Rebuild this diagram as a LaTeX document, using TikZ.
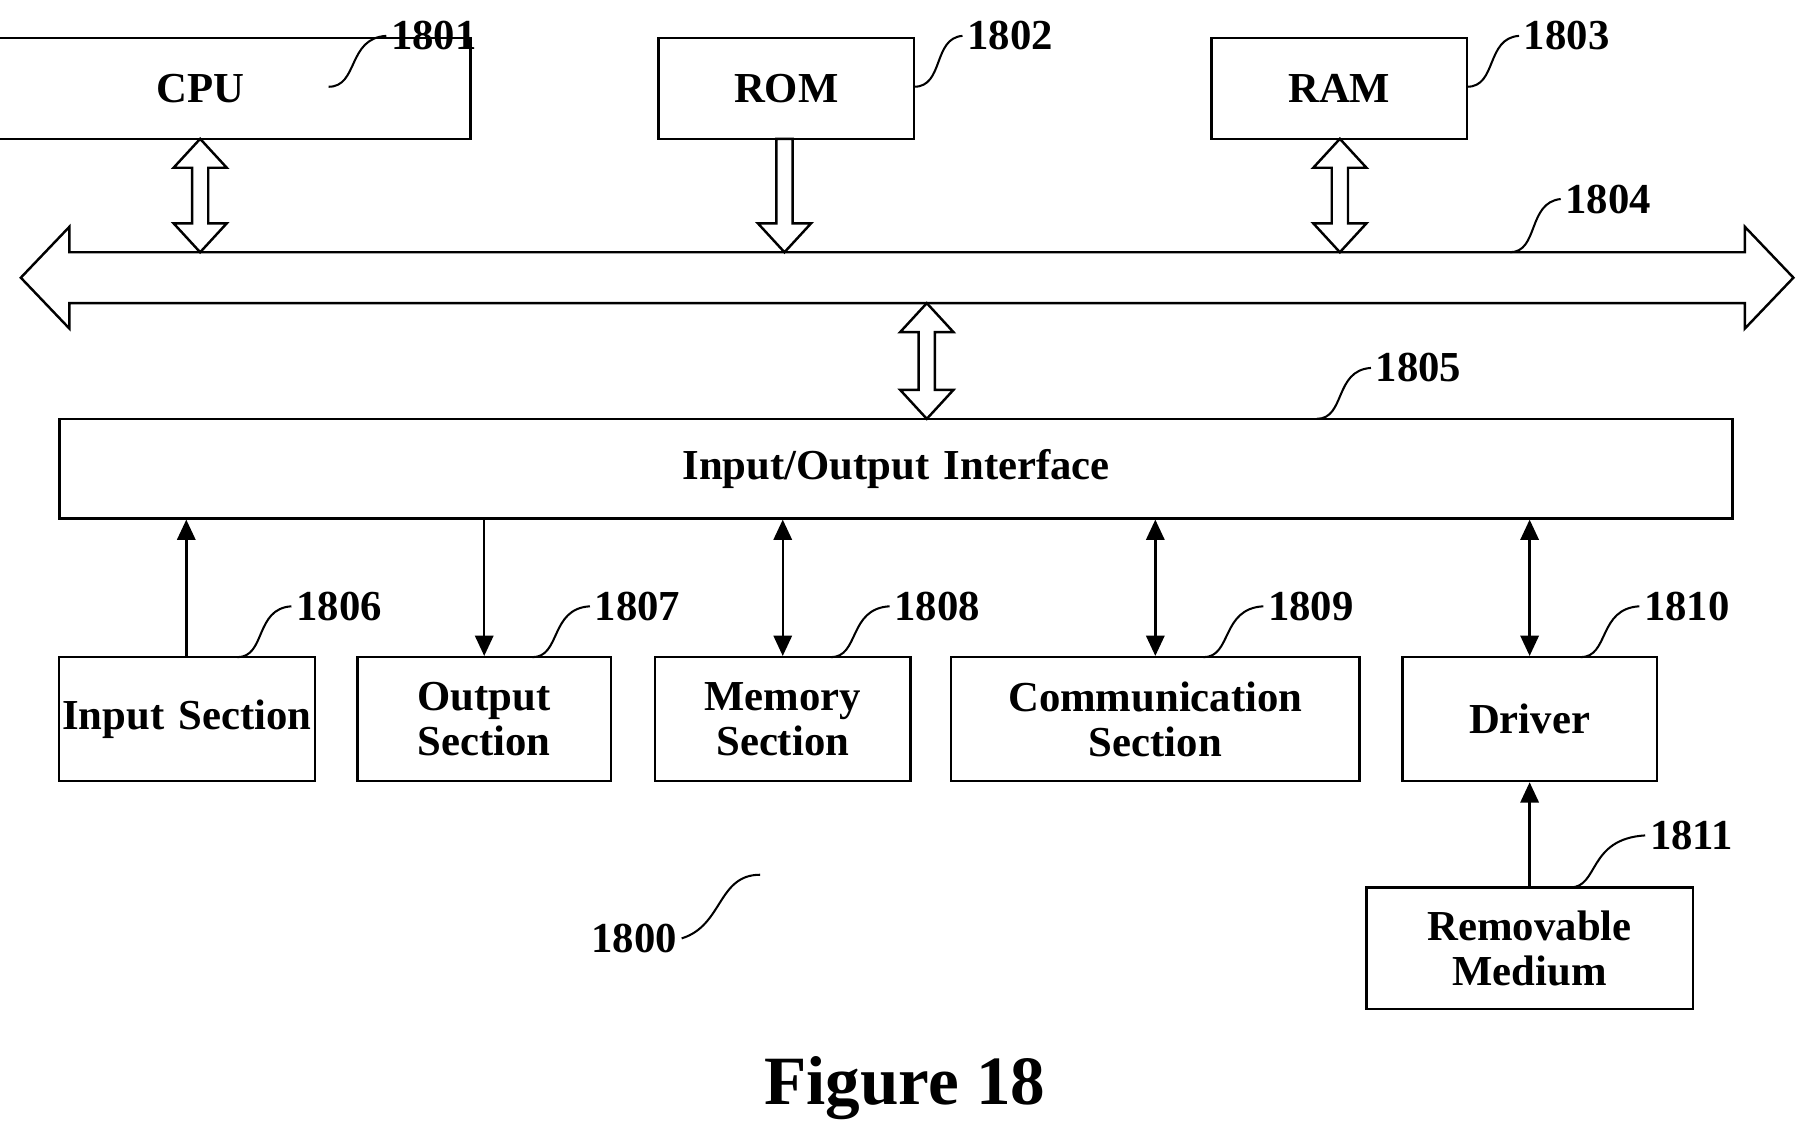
\documentclass[tikz,border=0pt]{standalone}
\usepackage{fontspec}
\setmainfont{Liberation Serif}
\usetikzlibrary{arrows.meta}
\tikzset{
  box/.style={draw,line width=0.6pt,inner sep=0pt,align=center,font=\fontsize{10.5}{11}\selectfont\bfseries},
  num/.style={font=\fontsize{10.5}{11}\selectfont\bfseries,inner sep=1pt},
  lead/.style={line width=0.5pt},
  link/.style={line width=0.6pt,-{Triangle[length=5pt,width=4.5pt]}},
  links/.style={line width=0.6pt,{Triangle[length=5pt,width=4.5pt]}-{Triangle[length=5pt,width=4.5pt]}},
}
% hollow arrows: x, top y, bottom y
\newcommand{\hdbl}[3]{\draw[line width=0.6pt,fill=white] (#1-7,#2+25) -- (#1-23,#2+25) -- (#1,#2) -- (#1+23,#2+25) -- (#1+7,#2+25) -- (#1+7,#3-25) -- (#1+23,#3-25) -- (#1,#3) -- (#1-23,#3-25) -- (#1-7,#3-25) -- cycle;}
\newcommand{\hdown}[3]{\draw[line width=0.6pt,fill=white] (#1-7,#2) -- (#1+7,#2) -- (#1+7,#3-25) -- (#1+23,#3-25) -- (#1,#3) -- (#1-23,#3-25) -- (#1-7,#3-25) -- cycle;}
\newcommand{\leader}[2]{\draw[lead] (#1) .. controls +(30,0) and +(-30,0) .. (#2);}
\begin{document}
\begin{tikzpicture}[x=0.01cm,y=-0.01cm]
\useasboundingbox (0,0) rectangle (1560,982);
% top row
\node[box,minimum width=221\pgflinewidth,text width=2.19cm,minimum height=0.87cm] (cpu) at (173.5,76.5) {CPU};
\node[box,text width=2.21cm,minimum height=0.87cm] (rom) at (679.5,76.5) {ROM};
\node[box,text width=2.21cm,minimum height=0.87cm] (ram) at (1157.5,76.5) {RAM};
% bus
\draw[line width=0.6pt] (60,218) -- (1508,218) -- (1508,196) -- (1550,240) -- (1508,284) -- (1508,262) -- (60,262) -- (60,284) -- (18,240) -- (60,196) -- cycle;
\hdbl{173}{120}{218}
\hdown{678}{120}{218}
\hdbl{1158}{120}{218}
\hdbl{801}{262}{362}
% interface
\node[box,text width=14.45cm,minimum height=0.86cm] (io) at (774.5,405) {Input/Output Interface};
% bottom row
\node[box,text width=2.21cm,minimum height=1.07cm] (in) at (161.5,621.5) {Input Section};
\node[box,text width=2.19cm,minimum height=1.07cm] (out) at (418.5,621.5) {Output\\Section};
\node[box,text width=2.21cm,minimum height=1.07cm] (mem) at (676.5,621.5) {Memory\\Section};
\node[box,text width=3.53cm,minimum height=1.07cm] (com) at (998.5,621.5) {Communication\\Section};
\node[box,text width=2.2cm,minimum height=1.07cm] (drv) at (1322,621.5) {Driver};
\node[box,text width=2.82cm,minimum height=1.05cm] (rm) at (1322,819.5) {Removable\\Medium};
% connectors
\draw[link] (in.north -| 161,0) -- (io.south -| 161,0);
\draw[link] (io.south -| out.north) -- (out.north);
\draw[links] (io.south -| mem.north) -- (mem.north);
\draw[links] (io.south -| com.north) -- (com.north);
\draw[links] (io.south -| drv.north) -- (drv.north);
\draw[link] (rm.north) -- (drv.south);
% reference numerals
\node[num] (n1801) at (375,31) {1801};
\node[num] (n1802) at (873,31) {1802};
\node[num] (n1803) at (1354,31) {1803};
\node[num] (n1804) at (1390,172) {1804};
\node[num] (n1805) at (1226,318) {1805};
\node[num] (n1806) at (293,524) {1806};
\node[num] (n1807) at (551,524) {1807};
\node[num] (n1808) at (810,524) {1808};
\node[num] (n1809) at (1133,524) {1809};
\node[num] (n1810) at (1458,524) {1810};
\node[num] (n1811) at (1462,722) {1811};
\node[num] (n1800) at (548,811) {1800};
\draw[lead] (284,75) .. controls (310,75) and (300,33) .. (n1801.west);
\draw[lead] (790,75) .. controls (816,75) and (806,33) .. (n1802.west);
\draw[lead] (1268,75) .. controls (1294,75) and (1284,33) .. (n1803.west);
\draw[lead] (1305,218) .. controls (1330,218) and (1320,175) .. (n1804.west);
\draw[lead] (1138,362) .. controls (1163,362) and (1153,320) .. (n1805.west);
\draw[lead] (205,568) .. controls (230,568) and (220,526) .. (n1806.west);
\draw[lead] (460,568) .. controls (485,568) and (475,526) .. (n1807.west);
\draw[lead] (718,568) .. controls (743,568) and (733,526) .. (n1808.west);
\draw[lead] (1040,568) .. controls (1065,568) and (1055,526) .. (n1809.west);
\draw[lead] (1366,568) .. controls (1391,568) and (1381,526) .. (n1810.west);
\draw[lead] (1357,767) .. controls (1382,767) and (1372,725) .. (n1811.west);
\draw[lead] (n1800.east) .. controls (625,800) and (620,756) .. (657,756);
\node[font=\fontsize{17}{18}\selectfont\bfseries] (fig) at (782,940) {Figure 18};
\end{tikzpicture}
\end{document}
